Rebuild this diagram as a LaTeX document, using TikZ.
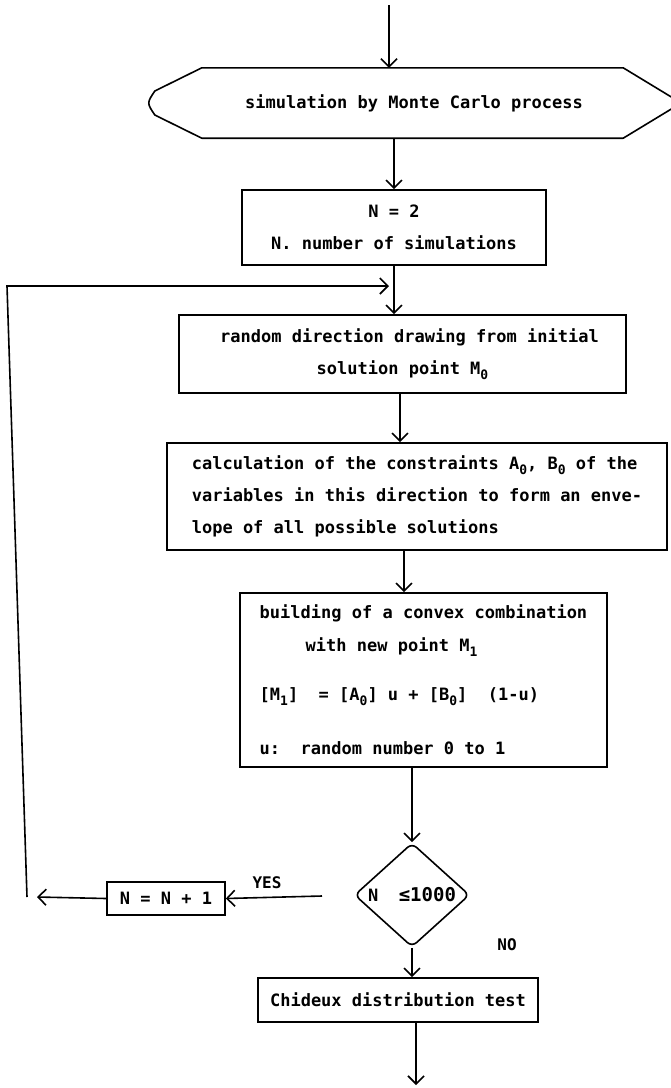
\documentclass[tikz,border=0pt]{standalone}
\usepackage{fontspec}
\setmainfont{DejaVu Sans Mono}[BoldFont={DejaVu Sans Mono Bold}]
\usetikzlibrary{arrows.meta,shapes.geometric,calc}
\newcommand\sbs[1]{\raisebox{-0.5ex}{\fontsize{13}{13}\selectfont #1}}
\begin{document}
\begin{tikzpicture}[x=1pt,y=-1pt,
  every node/.style={font=\fontsize{17}{32}\selectfont\bfseries, inner sep=0pt},
  box/.style={draw, line width=1.6pt},
  conn/.style={line width=1.6pt},
  arr/.style={conn, -{Straight Barb[length=8pt,width=16pt]}},
  lbl/.style={font=\fontsize{16}{18}\selectfont\bfseries}
]
\useasboundingbox (0,0) rectangle (670,1088);

% terminal (right tip runs past the page edge)
\node[minimum width=534, minimum height=70] (term) at (414,103) {simulation by Monte Carlo process};
\draw[line width=1.6pt, line join=round]
  ($(term.north west)+(55,0)$) -- ($(term.north east)+(-58,0)$) -- (term.east)
  -- ($(term.south east)+(-58,0)$) -- ($(term.south west)+(55,0)$)
  -- ($(term.west)+(8,12)$) .. controls (term.west) .. ($(term.west)+(8,-12)$)
  -- cycle;

\node[box, minimum width=304, minimum height=75, align=center] (n2) at (394,227.5)
  {N = 2\\N. number of simulations};

\node[box, minimum width=447, minimum height=78, align=center] (rnd) at (402.5,354)
  {\hspace*{14pt}random direction drawing from initial\\solution point M\sbs{0}};

\node[box, minimum width=500, minimum height=107, align=left] (con) at (417,496.5)
  {calculation of the constraints A\sbs{0}, B\sbs{0} of the\\
   variables in this direction to form an enve-\\
   lope of all possible solutions};

\node[box, minimum width=367, minimum height=174, align=left] (bld) at (423.5,680)
  {building of a convex combination\\[1pt]
   \hspace*{46pt}with new point M\sbs{1}\\[17pt]
   [M\sbs{1}]~~= [A\sbs{0}] u + [B\sbs{0}]~~(1-u)\\[22pt]
   u:~~random number 0 to 1};

\node[draw, diamond, line width=1.6pt, rounded corners=6pt, minimum width=115, minimum height=104] (dia) at (412,895)
  {\makebox[0pt]{N~~\fontsize{19}{19}\selectfont ≤1000}};

\node[box, minimum width=118, minimum height=33] (nn1) at (166,898.5) {N = N + 1};

\node[box, minimum width=280, minimum height=44] (chi) at (398,1000) {Chideux distribution test};

\node[lbl] (yes) at (267,883) {YES};
\node[lbl] (no) at (507,945) {NO};

% coordinates
\coordinate (top) at (389,5);
\coordinate (bot) at (416,1085);
\coordinate (lb) at (27,897);
\coordinate (lt) at (7,286);
\coordinate (la) at (37,897);
\coordinate (yl) at (322,896);
\coordinate (fx) at (404,0);
\coordinate (fr) at (400,0);

% connectors
\draw[arr] (top) -- (top |- term.north);
\draw[arr] (term.south -| n2.north) -- (n2.north);
\draw[arr] (n2.south) -- (n2.south |- rnd.north);
\draw[arr] (lb) -- (lt) -- ($(n2.south |- lt)+(-5,0)$);
\draw[arr] (rnd.south -| fr) -- (con.north -| fr);
\draw[arr] (con.south -| fx) -- (bld.north -| fx);
\draw[arr] (bld.south -| dia.north) -- (dia.north);
\draw[arr] (yl) -- (nn1.east);
\draw[arr] (nn1.west) -- (la);
\draw[arr] (dia.south) -- (dia.south |- chi.north);
\draw[arr] (chi.south -| bot) -- (bot);
\end{tikzpicture}
\end{document}
